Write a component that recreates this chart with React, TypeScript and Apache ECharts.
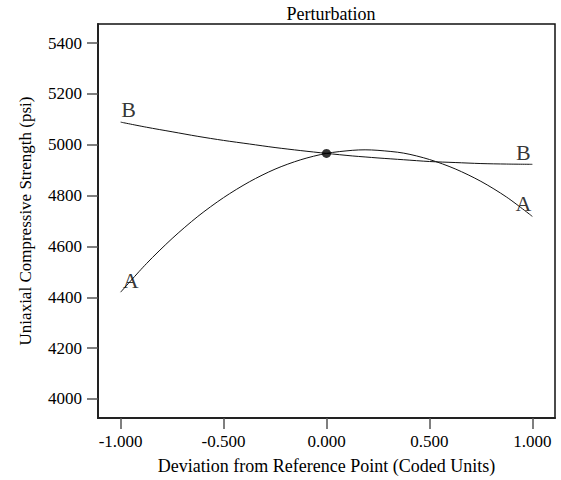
import React, { useEffect, useRef } from "react";
import * as echarts from "echarts";

const xValues = [-1, -0.875, -0.75, -0.625, -0.5, -0.375, -0.25, -0.125, 0, 0.125, 0.1875, 0.25, 0.375, 0.5, 0.625, 0.75, 0.875, 1];
const seriesA = [4420, 4532, 4631, 4718, 4792, 4854, 4904, 4941, 4966, 4978, 4980, 4978, 4967, 4942, 4905, 4856, 4794, 4718];
const seriesB = [5089, 5069, 5051, 5033, 5017, 5003, 4989, 4977, 4966, 4956, 4952, 4948, 4941, 4934, 4930, 4926, 4924, 4923];
const refPoint = [0, 4966];
const xTicks = [-1, -0.5, 0, 0.5, 1];
const yTicks = [4000, 4200, 4400, 4600, 4800, 5000, 5200, 5400];

const FONT = "Liberation Serif";

export default function App() {
  const ref = useRef<HTMLDivElement>(null);
  useEffect(() => {
    if (!ref.current) return;
    const chart = echarts.init(ref.current, null, { renderer: "svg" });
    const toPairs = (ys: number[]) => xValues.map((x, i) => [x, ys[i]]);
    const last = xValues.length - 1;
    const lbl = (name: string, dx: number, dy: number) => ({
      show: true,
      formatter: name,
      position: [dx, dy],
      align: "center",
      verticalAlign: "middle",
      fontFamily: FONT,
      fontSize: 22,
      color: "#000",
    });
    const labelData = [
      { value: [xValues[0], seriesB[0]], label: lbl("B", 8, -13) },
      { value: [xValues[last], seriesB[last]], label: lbl("B", -9, -12) },
      { value: [xValues[0], seriesA[0]], label: lbl("A", 10, -12) },
      { value: [xValues[last], seriesA[last]], label: lbl("A", -9, -13) },
    ];
    const axisText = { fontFamily: FONT, fontSize: 17, color: "#000" };
    chart.setOption({
      animation: false,
      backgroundColor: "#fff",
      title: {
        text: "Perturbation",
        left: 326,
        textAlign: "center",
        top: 0,
        textStyle: { fontFamily: FONT, fontSize: 18, fontWeight: "normal", color: "#000" },
      },
      grid: {
        left: 98,
        right: 6,
        top: 24,
        bottom: 62,
        show: true,
        borderColor: "#111",
        borderWidth: 1.5,
        backgroundColor: "transparent",
      },
      xAxis: {
        type: "value",
        min: -1.11,
        max: 1.11,
        name: "Deviation from Reference Point (Coded Units)",
        nameLocation: "middle",
        nameGap: 39,
        nameTextStyle: { fontFamily: FONT, fontSize: 18, color: "#000" },
        axisLine: { show: true, onZero: false, lineStyle: { color: "#222", width: 2 } },
        axisTick: { show: true, length: 11, customValues: xTicks, lineStyle: { color: "#555", width: 1.5 } },
        axisLabel: {
          ...axisText,
          margin: 15,
          customValues: xTicks,
          formatter: (v: number) => v.toFixed(3),
        },
        splitLine: { show: false },
      },
      yAxis: {
        type: "value",
        min: 3925,
        max: 5475,
        name: "Uniaxial Compressive Strength (psi)",
        nameLocation: "middle",
        nameGap: 64,
        nameTextStyle: { fontFamily: FONT, fontSize: 17, color: "#000" },
        axisLine: { show: true, onZero: false, lineStyle: { color: "#222", width: 2 } },
        axisTick: { show: true, length: 11, customValues: yTicks, lineStyle: { color: "#555", width: 1.5 } },
        axisLabel: { ...axisText, margin: 16, customValues: yTicks, formatter: (v: number) => String(v) },
        splitLine: { show: false },
      },
      series: [
        {
          type: "line",
          data: toPairs(seriesA),
          smooth: 0.3,
          showSymbol: false,
          symbol: "none",
          lineStyle: { color: "#111", width: 1 },
        },
        {
          type: "line",
          data: toPairs(seriesB),
          smooth: 0.3,
          showSymbol: false,
          symbol: "none",
          lineStyle: { color: "#111", width: 1 },
        },
        {
          type: "scatter",
          data: [refPoint],
          symbol: "circle",
          symbolSize: 9,
          itemStyle: { color: "#000" },
          z: 5,
        },
        {
          type: "scatter",
          data: labelData,
          symbol: "circle",
          symbolSize: 0,
          itemStyle: { color: "transparent" },
          z: 6,
        },
      ],
    });
    return () => chart.dispose();
  }, []);
  return (
    <div
      ref={ref}
      style={{ position: "fixed", left: 0, top: 0, width: 561, height: 480 }}
    />
  );
}
